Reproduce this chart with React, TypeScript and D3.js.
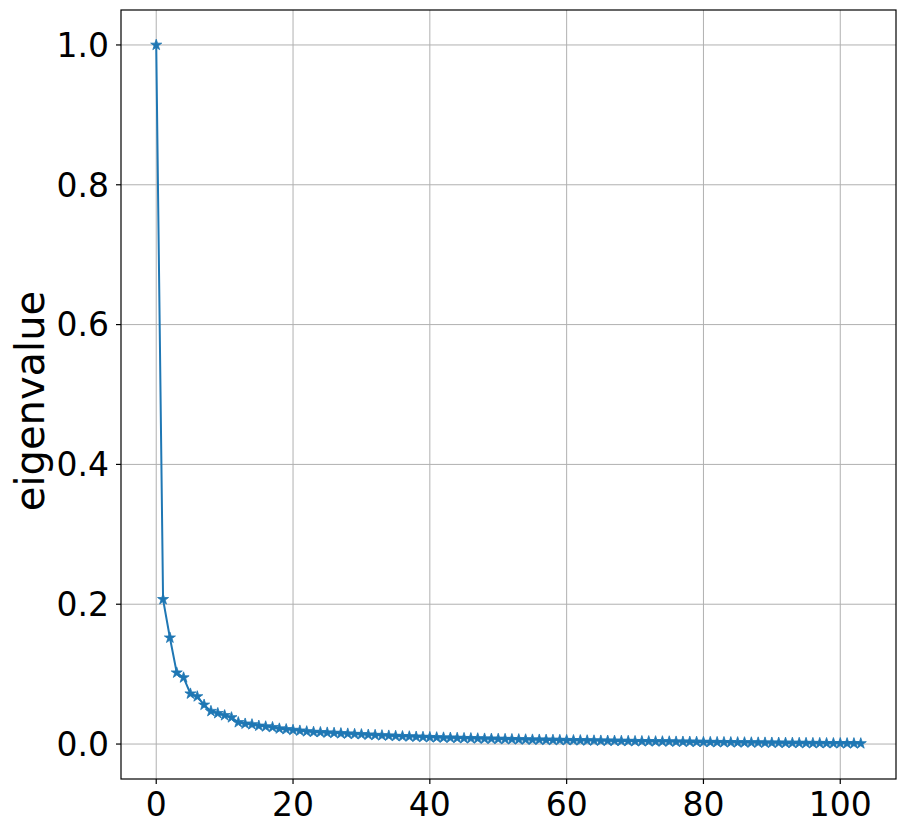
import React from "react";
import * as d3 from "d3";

const eigenvalues: number[] = [
  1.0, 0.207, 0.152, 0.102, 0.095, 0.072, 0.068, 0.056, 0.047, 0.044,
  0.041, 0.038, 0.031, 0.029, 0.028, 0.026, 0.025, 0.024, 0.022, 0.021,
  0.020, 0.019, 0.018, 0.0172, 0.0168, 0.0162, 0.0158, 0.0152, 0.0148, 0.0142,
  0.0138, 0.0132, 0.0128, 0.0123, 0.0119, 0.0114, 0.011, 0.0107, 0.0103, 0.0100,
  0.0097, 0.0094, 0.0091, 0.0089, 0.0086, 0.0083, 0.0081, 0.0079, 0.0076, 0.0074,
  0.0072, 0.0070, 0.0068, 0.0066, 0.0064, 0.0062, 0.0061, 0.0059, 0.0058, 0.0056,
  0.0055, 0.0053, 0.0052, 0.0050, 0.0049, 0.0047, 0.0046, 0.0045, 0.0043, 0.0042,
  0.0040, 0.0039, 0.0038, 0.0037, 0.0036, 0.0035, 0.0033, 0.0032, 0.0031, 0.0030,
  0.0028, 0.0027, 0.0026, 0.0025, 0.0024, 0.0023, 0.0022, 0.0021, 0.0020, 0.0019,
  0.0018, 0.0017, 0.0016, 0.0015, 0.0014, 0.0013, 0.0012, 0.0012, 0.0011, 0.0010,
  0.0010, 0.0009, 0.0009, 0.0008,
];
const xTicks: number[] = [0, 20, 40, 60, 80, 100];
const yTicks: number[] = [0.0, 0.2, 0.4, 0.6, 0.8, 1.0];
const yLabel = "eigenvalue";

const W = 905;
const H = 833;
const L = 121, R = 896, T = 10, B = 779;
const FONT = "DejaVu Sans";

export default function App() {
  const n = eigenvalues.length;
  const x = d3.scaleLinear().domain([-0.05 * (n - 1), (n - 1) * 1.05]).range([L, R]);
  const y = d3.scaleLinear().domain([-0.05, 1.05]).range([B, T]);
  const line = d3.line<number>().x((_, i) => x(i)).y((d) => y(d));
  const star = d3.symbol().type(d3.symbolStar).size(38)() as string;
  return (
    <svg width={W} height={H} style={{ position: "absolute", left: 0, top: 0, background: "#fff" }}>
      <rect x={0} y={0} width={W} height={H} fill="#fff" />
      <g>
        {xTicks.map((t) => (
          <line key={"gx" + t} x1={x(t)} x2={x(t)} y1={T} y2={B} stroke="#b0b0b0" strokeWidth={1} />
        ))}
        {yTicks.map((t) => (
          <line key={"gy" + t} x1={L} x2={R} y1={y(t)} y2={y(t)} stroke="#b0b0b0" strokeWidth={1} />
        ))}
      </g>
      <path d={line(eigenvalues) || ""} fill="none" stroke="#1f77b4" strokeWidth={2} />
      {eigenvalues.map((v, i) => (
        <path key={i} d={star} transform={`translate(${x(i)},${y(v)})`} fill="#1f77b4" stroke="#1f77b4" strokeWidth={0.8} />
      ))}
      <rect x={L} y={T} width={R - L} height={B - T} fill="none" stroke="#000" strokeWidth={1.2} />
      {xTicks.map((t) => (
        <g key={"tx" + t}>
          <line x1={x(t)} x2={x(t)} y1={B} y2={B + 5} stroke="#000" strokeWidth={1.2} />
          <text x={x(t)} y={816} textAnchor="middle" fontFamily={FONT} fontSize={33} fill="#000">
            {t}
          </text>
        </g>
      ))}
      {yTicks.map((t) => (
        <g key={"ty" + t}>
          <line x1={L - 5} x2={L} y1={y(t)} y2={y(t)} stroke="#000" strokeWidth={1.2} />
          <text x={L - 12} y={y(t)} dy="0.36em" textAnchor="end" fontFamily={FONT} fontSize={33} fill="#000">
            {t.toFixed(1)}
          </text>
        </g>
      ))}
      <text
        transform={`translate(44,401) rotate(-90)`}
        textAnchor="middle"
        fontFamily={FONT}
        fontSize={40}
        fill="#000"
      >
        {yLabel}
      </text>
    </svg>
  );
}
